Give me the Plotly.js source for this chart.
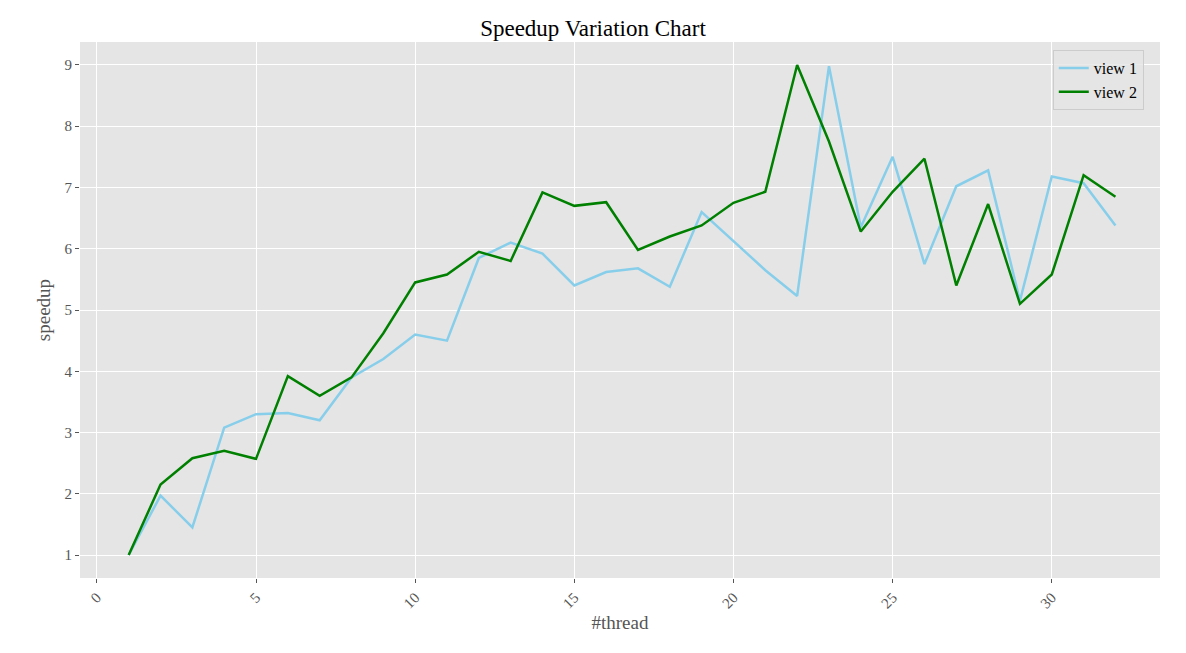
<!DOCTYPE html>
<html><head><script src="https://cdn.plot.ly/plotly-3.0.1.min.js"></script></head>
<body style="margin:0"><div id="c" style="width:1186px;height:653px"></div>
<script>
const threads = Array.from({length:32},(_,i)=>i+1);
const view1 = [1.0,1.97,1.45,3.08,3.3,3.32,3.2,3.9,4.2,4.6,4.5,5.85,6.1,5.92,5.4,5.62,5.68,5.38,6.6,6.12,5.65,5.23,8.98,6.35,7.5,5.75,7.02,7.28,5.15,7.18,7.07,6.38];
const view2 = [1.0,2.15,2.58,2.7,2.57,3.92,3.6,3.9,4.62,5.45,5.58,5.95,5.8,6.92,6.7,6.76,5.98,6.2,6.38,6.75,6.93,9.0,7.75,6.28,6.93,7.47,5.4,6.73,5.1,5.58,7.2,6.85];
const font = {family:'"Liberation Serif", "DejaVu Serif", serif', color:'#555', size:15};
Plotly.newPlot('c',[
 {x:threads,y:view1,mode:'lines',name:'view 1',line:{color:'#87ceeb',width:2.5}},
 {x:threads,y:view2,mode:'lines',name:'view 2',line:{color:'green',width:2.5}}
],{
 width:1186,height:653,paper_bgcolor:'white',plot_bgcolor:'#e5e5e5',
 margin:{l:80,r:26,t:42,b:75},
 font:font,
 title:{text:'Speedup Variation Chart',font:{family:font.family,size:23,color:'black'},x:0.5,y:0.97},
 xaxis:{range:[-0.53,33.4],tickvals:[0,5,10,15,20,25,30],tickangle:-45,gridcolor:'white',gridwidth:1.3,zeroline:false,ticks:'outside',tickcolor:'#555',ticklen:4,
  title:{text:'#thread',font:{family:font.family,size:19,color:'#555'},standoff:5}},
 yaxis:{range:[0.625,9.375],dtick:1,gridcolor:'white',gridwidth:1.3,zeroline:false,ticks:'outside',tickcolor:'#555',ticklen:4,
  title:{text:'speedup',font:{family:font.family,size:19,color:'#555'},standoff:8}},
 legend:{x:0.985,y:0.985,xanchor:'right',yanchor:'top',bgcolor:'rgba(229,229,229,0.8)',bordercolor:'#ccc',borderwidth:1,font:{family:font.family,size:16,color:'black'}},
 showlegend:true
},{displayModeBar:false});
</script></body></html>
